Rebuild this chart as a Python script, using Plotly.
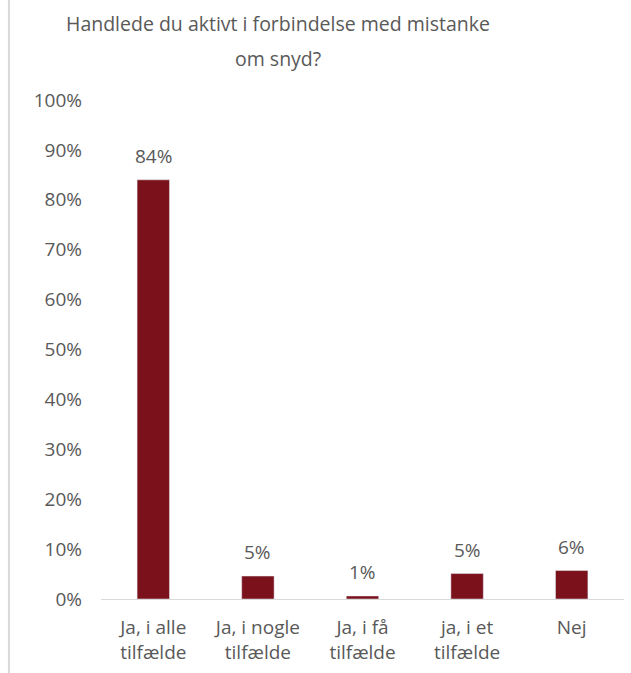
import plotly.graph_objects as go

categories = ["Ja, i alle<br>tilfælde", "Ja, i nogle<br>tilfælde", "Ja, i få<br>tilfælde", "ja, i et<br>tilfælde", "Nej"]
values = [84, 4.6, 0.6, 5.1, 5.7]
y_ticks = list(range(0, 101, 10))
y_tick_text = [f"{v}%" for v in y_ticks]
title_lines = ["Handlede du aktivt i forbindelse med mistanke", "om snyd?"]

BAR_COLOR = "#7a111b"
TEXT_COLOR = "#595959"
FONT = "Open Sans"

fig = go.Figure()
fig.add_trace(
    go.Bar(
        x=categories,
        y=values,
        marker=dict(color=BAR_COLOR),
        hoverinfo="skip",
    )
)

# data labels sit a bit higher than plotly's "outside" text
for cat, val in zip(categories, values):
    fig.add_annotation(
        x=cat, y=val, text=f"{val:.0f}%", showarrow=False,
        yanchor="middle", yshift=24,
        font=dict(family=FONT, size=19, color=TEXT_COLOR),
    )

# title as two annotations so the line spacing matches
for i, line in enumerate(title_lines):
    fig.add_annotation(
        text=line, showarrow=False,
        xref="paper", yref="paper", x=(278 - 101) / 523, y=1,
        xanchor="center", yanchor="middle", yshift=77 - 35 * i,
        font=dict(family=FONT, size=19.5, color=TEXT_COLOR),
    )

# chart-area border (left edge only is visible)
fig.add_shape(
    type="line", xref="paper", yref="paper",
    x0=-0.176, x1=-0.176, y0=-0.15, y1=1.21,
    line=dict(color="#d9d9d9", width=2),
)

fig.update_layout(
    width=631,
    height=673,
    margin=dict(l=101, r=7, t=100, b=74),
    paper_bgcolor="white",
    plot_bgcolor="white",
    bargap=0.69,
    showlegend=False,
    font=dict(family=FONT, size=19, color=TEXT_COLOR),
    xaxis=dict(
        showline=True, linecolor="#d9d9d9", linewidth=1,
        showgrid=False, ticks="", ticklabelstandoff=11,
        tickfont=dict(size=19),
    ),
    yaxis=dict(
        range=[0, 100], tickvals=y_ticks, ticktext=y_tick_text,
        showgrid=False, zeroline=False, showline=False, ticks="",
        ticklabelstandoff=18,
        tickfont=dict(size=19),
    ),
)

fig.write_html(
    "out.html",
    config=dict(displayModeBar=False),
    post_script="document.body.style.margin='0';",
)
